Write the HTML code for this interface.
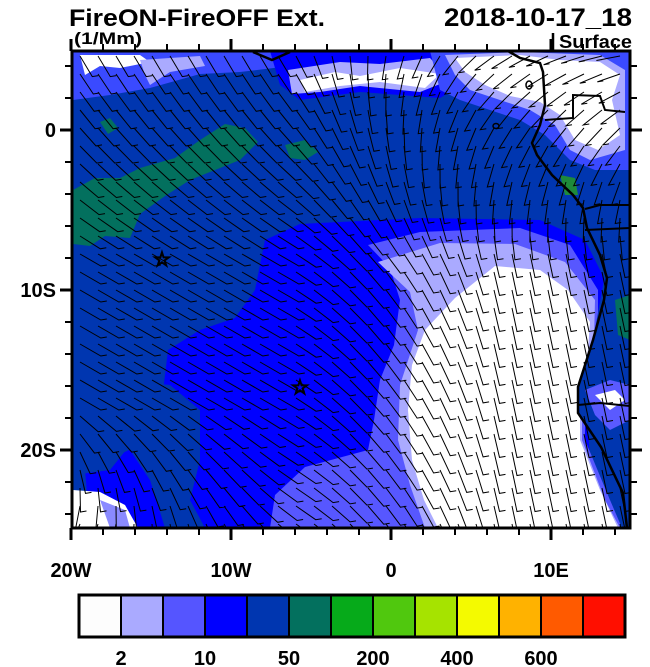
<!DOCTYPE html>
<html><head><meta charset="utf-8"><style>
html,body{margin:0;padding:0;background:#fff;}
svg{display:block;font-family:"Liberation Sans",Arial,sans-serif;}
</style></head><body>
<svg id="fig" width="650" height="667" viewBox="0 0 650 667" xmlns="http://www.w3.org/2000/svg">
<text x="69" y="26" font-size="24" font-weight="bold" fill="#000" textLength="256" lengthAdjust="spacingAndGlyphs">FireON-FireOFF Ext.</text>
<text x="74" y="44" font-size="17" font-weight="bold" fill="#000" textLength="68" lengthAdjust="spacingAndGlyphs">(1/Mm)</text>
<text x="632" y="26" font-size="25" font-weight="bold" text-anchor="end" fill="#000" textLength="188" lengthAdjust="spacingAndGlyphs">2018-10-17_18</text>
<text x="632" y="48" font-size="18" font-weight="bold" text-anchor="end" fill="#000" textLength="73" lengthAdjust="spacingAndGlyphs">Surface</text>
<line x1="553" y1="33" x2="553" y2="50" stroke="#000" stroke-width="2.5"/>
<defs><clipPath id="mapclip"><rect x="73" y="51" width="557" height="477"/></clipPath></defs>
<g id="map" clip-path="url(#mapclip)">
 <rect x="73" y="51" width="557" height="477" fill="#0036b0"/>
 <polygon fill="#3a4aff" points="73,51 300,51 290,66 240,72 200,74 150,88 110,95 73,100"/>
 <polygon fill="#ffffff" points="80,55 140,55 150,62 120,68 100,66 85,75"/>
 <polygon fill="#aaaaff" points="140,60 200,56 205,66 170,72 150,85 145,75"/>
 <polygon fill="#0000ff" points="270,51 450,51 470,80 440,98 400,95 360,92 300,100 280,85"/>
 <polygon fill="#aaaaff" points="288,70 340,62 380,64 430,58 450,80 420,92 360,86 320,92 292,94"/>
 <polygon fill="#ffffff" points="300,80 335,72 360,76 400,68 440,74 425,88 380,82 340,86 305,92"/>
 <polygon fill="#3a4aff" points="430,51 630,51 630,175 600,172 570,160 545,135 520,120 490,110 460,100 440,90"/>
 <polygon fill="#aaaaff" points="445,55 520,52 600,55 625,70 625,150 590,160 570,150 555,125 530,110 500,100 470,90 455,75"/>
 <polygon fill="#ffffff" points="455,58 520,55 560,60 600,62 620,75 612,100 620,135 598,150 575,140 560,115 540,102 510,96 485,85 465,72"/>
 <polygon fill="#03705e" points="73,190 95,178 120,178 140,168 175,158 200,140 225,124 245,128 258,142 240,160 215,170 190,180 165,196 140,214 130,238 105,236 90,246 73,244"/>
 <polygon fill="#03705e" points="285,145 305,140 318,152 305,160 290,158"/>
 <polygon fill="#03705e" points="100,122 110,118 118,128 108,134"/>
 <polygon fill="#0000ff" points="265,240 300,224 420,218 540,220 585,240 605,280 600,330 585,380 590,460 620,528 90,528 85,470 140,445 162,400 168,350 200,330 235,318 255,290"/>
 <polygon fill="#0036b0" points="120,380 170,385 200,410 200,460 190,500 205,528 165,528 150,480 130,450 115,420"/>
 <polygon fill="#0036b0" points="73,440 100,435 130,445 110,470 73,475"/>
 <polygon fill="#5757ff" points="368,245 420,232 520,228 570,245 598,290 598,330 585,380 585,440 610,500 622,528 270,528 275,495 305,467 368,450 374,420 380,380 394,345 400,300 390,268"/>
 <polygon fill="#aaaaff" points="378,262 440,243 515,244 565,262 595,300 594,340 582,385 582,440 605,500 620,528 425,528 410,485 398,440 400,385 418,330 410,292"/>
 <polygon fill="#ffffff" points="495,266 540,270 568,290 590,322 588,350 580,385 580,440 600,490 618,528 438,528 424,500 412,460 408,410 412,365 425,330 455,298"/>
 <polygon fill="#ffffff" points="73,490 100,492 125,505 138,528 73,528"/>
 <polygon fill="#8a8aff" points="100,500 125,510 130,528 110,528"/>
 <polygon fill="#0036b0" points="545,170 552,175 573,195 583,208 587,228 600,255 607,278 604,280 593,340 578,387 578,413 601,447 623,493 627,528 630,528 630,170"/>
 <polygon fill="#5a5aff" points="585,390 610,380 630,385 630,420 610,430 595,415"/>
 <polygon fill="#ffffff" points="595,395 615,390 625,400 610,410"/>
 <polygon fill="#1e8a3a" points="560,175 575,178 578,195 565,195"/>
 <polygon fill="#03705e" points="615,300 630,295 630,340 618,335"/>
 <g id="barbs" stroke="#000" stroke-width="1" fill="none"></g>
 <polyline fill="none" stroke="#000" stroke-width="2.5" points="508,51 520,58 540,63 543,72 545,105 540,125 532,143 537,155 552,175 573,195 583,208 587,228 600,255 607,278 604,300 593,340 578,387 578,413 601,447 623,493 627,528"/>
 <polyline fill="none" stroke="#000" stroke-width="2.5" points="253,52 272,60 290,52"/>
 <polyline fill="none" stroke="#000" stroke-width="2" points="545,120 573,118 573,95 600,96 605,110 625,112"/>
 <polyline fill="none" stroke="#000" stroke-width="2" points="585,209 600,205 630,205"/>
 <polyline fill="none" stroke="#000" stroke-width="2" points="578,405 600,403 630,406"/>
 <polyline fill="none" stroke="#000" stroke-width="2" points="585,230 630,228"/>
 <ellipse cx="496" cy="126" rx="3" ry="2.5" fill="none" stroke="#000" stroke-width="1.5"/>
 <ellipse cx="529" cy="85" rx="3" ry="4" fill="none" stroke="#000" stroke-width="1.5"/>
 <text x="162" y="266" font-size="20" text-anchor="middle" fill="none" stroke="#000" stroke-width="1.5">☆</text>
 <text x="300" y="394" font-size="20" text-anchor="middle" fill="none" stroke="#000" stroke-width="1.5">☆</text>
</g>
<rect x="72" y="51" width="558" height="477" fill="none" stroke="#000" stroke-width="3"/>
<g id="ticks" stroke="#000" stroke-width="2"></g>
<g id="axislabels" font-size="20" font-weight="bold" fill="#000"></g>
<g id="colorbar"></g>
<script>
const cbColors = ["#fdfdfd","#aaaaff","#5555ff","#0000ff","#0036b0","#03705e","#06aa1a","#50c80e","#a6e300","#f4fa00","#ffb200","#ff5a00","#ff0f00"];
const cbLabels = ["2","10","50","200","400","600"];
const lonTicks = [-20,-10,0,10];
const lonTickLabels = ["20W","10W","0","10E"];
const latTicks = [0,-10,-20];
const latTickLabels = ["0","10S","20S"];
const NS="http://www.w3.org/2000/svg";
function mk(tag,attrs,parent){const e=document.createElementNS(NS,tag);for(const k in attrs)e.setAttribute(k,attrs[k]);parent.appendChild(e);return e;}
const xLon = lon => 391 + lon*16;
const yLat = lat => 130 - lat*16;
const bg=document.getElementById('barbs');
let d="";
for(let y=56;y<528;y+=18){for(let x=80;x<630;x+=18){
  let th=60-Math.min(1,Math.max(0,(x-280)/220))*48;
  if(y<250) th-=(250-y)*(0.15+Math.max(0,x-300)*0.001);
  th-=Math.max(0,y-400)*0.7*Math.max(0,300-x)/230;
  const r=th*Math.PI/180,L=24;
  const x2=x+L*Math.sin(r), y2=y+L*Math.cos(r);
  const bx=x2+6, by=y2-1;
  d+=`M${x.toFixed(1)} ${y.toFixed(1)}L${x2.toFixed(1)} ${y2.toFixed(1)}L${bx.toFixed(1)} ${by.toFixed(1)}`;
}}
const bp=mk('path',{d:d},bg);


const tg=document.getElementById('ticks');
for(let lon=-20;lon<=14;lon+=2){
  const x=xLon(lon), maj=(lon%10===0), L=maj?12:7;
  const t1=mk('line',{x1:x,y1:51,x2:x,y2:51-L,'stroke-width':maj?3:2},tg);
  
  
  const t2=mk('line',{x1:x,y1:528,x2:x,y2:528+L,'stroke-width':maj?3:2},tg);
  
  
}
for(let lat=4;lat>=-24;lat-=2){
  const y=yLat(lat), maj=(lat%10===0), L=maj?12:7;
  const t1=mk('line',{x1:72,y1:y,x2:72-L,y2:y,'stroke-width':maj?3:2},tg);
  
  
  const t2=mk('line',{x1:630,y1:y,x2:630+L,y2:y,'stroke-width':maj?3:2},tg);
  
  
}
const al=document.getElementById('axislabels');
lonTicks.forEach((lon,i)=>{
  const t=mk('text',{x:xLon(lon),y:577,'text-anchor':'middle'},al);
  t.textContent=lonTickLabels[i];
  
  
});
latTicks.forEach((lat,i)=>{
  const t=mk('text',{x:56,y:yLat(lat)+7,'text-anchor':'end'},al);
  t.textContent=latTickLabels[i];
  
  
});
const cg=document.getElementById('colorbar');
const cbX0=79, cbX1=625, cbY=595, cbH=42, bw=(cbX1-cbX0)/cbColors.length;
cbColors.forEach((c,i)=>{
  const r=mk('rect',{x:cbX0+i*bw,y:cbY,width:bw,height:cbH,fill:c,stroke:'#000','stroke-width':2},cg);
  
  
});
const fr=mk('rect',{x:cbX0,y:cbY,width:cbX1-cbX0,height:cbH,fill:'none',stroke:'#000','stroke-width':3},cg);


cbLabels.forEach((lab,i)=>{
  const t=mk('text',{x:cbX0+(2*i+1)*bw,y:665,'text-anchor':'middle','font-size':20,'font-weight':'bold'},cg);
  t.textContent=lab;
  
  
});
</script>
</svg>
</body></html>
